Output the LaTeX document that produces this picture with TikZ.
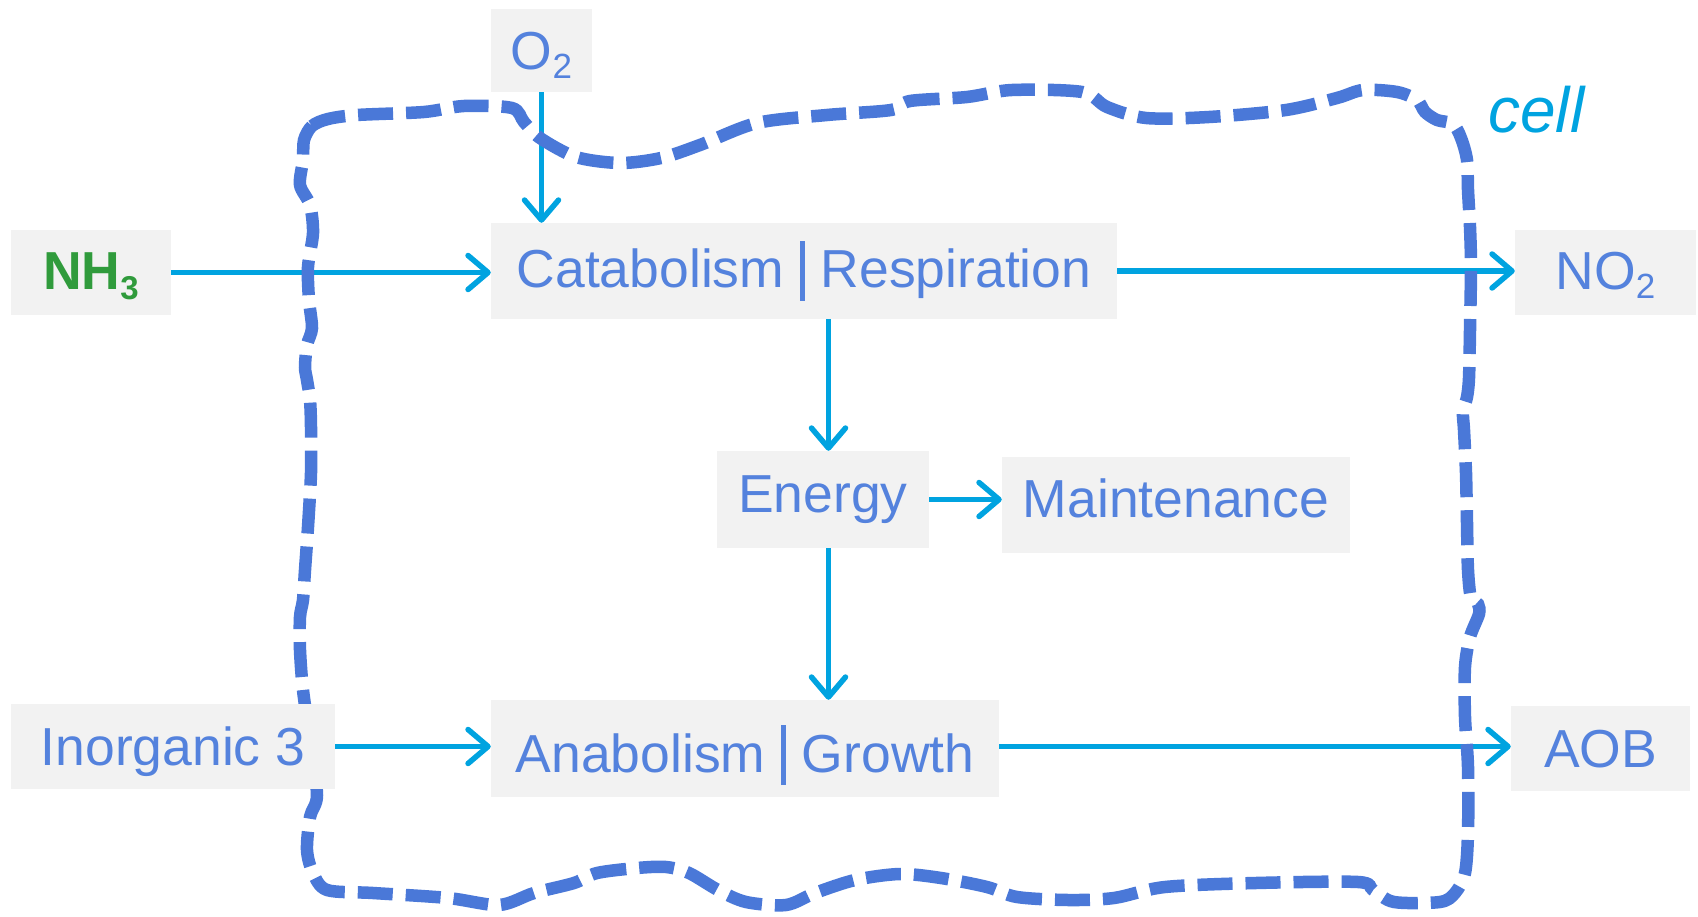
\documentclass[tikz,border=0pt]{standalone}
\usepackage{fontspec}
\setmainfont{Liberation Sans}
\usetikzlibrary{arrows.meta}
\definecolor{boxfill}{HTML}{F2F2F2}
\definecolor{labelblue}{RGB}{84,130,221}
\definecolor{flowcyan}{HTML}{00A3E0}
\definecolor{membrane}{RGB}{74,120,216}
\definecolor{ammonia}{RGB}{48,155,60}
\pgfdeclarelayer{under}
\pgfsetlayers{under,main}
% lowered subscript and the separator bar inside the process labels
\newcommand\lowsub[2]{\raisebox{-#1}{\fontsize{35pt}{35pt}\selectfont #2}}
\newcommand\sepbar{\hspace{16pt}\rule[-13pt]{4.5pt}{60pt}\hspace{16pt}}
\begin{document}
\begin{tikzpicture}[x=1pt,y=-1pt,
  box/.style={fill=boxfill, inner sep=0pt, text=labelblue,
    font=\fontsize{53.5pt}{60pt}\selectfont, text depth=0pt},
  flow/.style={draw=flowcyan, line width=5.5pt,
    -{Straight Barb[length=20pt,width=34pt,round]}},
  membranestyle/.style={draw=membrane, line width=12.5pt,
    dash pattern=on 35pt off 13pt}
]
\useasboundingbox (0,0) rectangle (1698,917);

% substances and processes
\node[box, minimum width=101pt, minimum height=83pt, text height=39pt] (o2) at (541.5,50.5) {O\lowsub{9pt}{2}};
\node[box, minimum width=160pt, minimum height=85pt, text height=35pt, text=ammonia] (nh3) at (91,272.5)
  {\bfseries NH\raisebox{-10pt}{\fontsize{33pt}{33pt}\selectfont 3}};
\node[box, minimum width=626pt, minimum height=96pt, text height=34pt] (cat) at (804,271) {Catabolism\sepbar Respiration};
\node[box, minimum width=181pt, minimum height=85pt, text height=35pt] (no2) at (1605.5,272.5) {NO\lowsub{9pt}{2}};
\node[box, minimum width=212pt, minimum height=97pt, text height=26pt] (energy) at (823,499.5) {Energy};
\node[box, minimum width=348pt, minimum height=96pt, text height=25pt] (maint) at (1176,505) {Maintenance};
\node[box, minimum width=324pt, minimum height=85pt, text height=37pt] (inorg) at (173,746.5) {Inorganic 3};
\node[box, minimum width=508pt, minimum height=97pt, text height=47pt] (anab) at (745,748.5) {Anabolism\sepbar Growth};
\node[box, minimum width=179pt, minimum height=85pt, text height=37pt] (aob) at (1600.5,748.5) {AOB};
\node[anchor=base west, inner sep=0pt, text=flowcyan, font=\fontsize{64pt}{70pt}\selectfont\itshape] (celllabel) at (1488,133) {cell};

\coordinate (vx) at (828.5,0);

\begin{pgfonlayer}{under}
  % flows
  \draw[flow] (o2.south) -- (o2.south |- cat.north);
  \draw[flow] (nh3.east) -- (nh3.east -| cat.west);
  \draw[flow] (cat.east) -- (cat.east -| no2.west);
  \draw[flow] (vx |- cat.south) -- (vx |- energy.north);
  \draw[flow] (energy.east) -- (energy.east -| maint.west);
  \draw[flow] (vx |- energy.south) -- (vx |- anab.north);
  \draw[flow] (inorg.east) -- (inorg.east -| anab.west);
  \draw[flow] (anab.east |- inorg.east) -- (aob.west |- inorg.east);
  % cell membrane
  \draw[membranestyle] plot[smooth cycle, tension=0.5] coordinates {
    (304,140) (312,126) (328,119) (357,115) (424,112) (464,106) (512,108) (524,122)
    (540,138) (576,157) (620,163) (661,158) (700,145) (757,123) (827,115) (891,110)
    (910,101) (967,97) (1012,90) (1082,92) (1107,107) (1146,118) (1209,117) (1286,110)
    (1337,98) (1363,90) (1397,92) (1417,100) (1425,112) (1437,120) (1453,124) (1461,138)
    (1467,160) (1468,190) (1470,227) (1471,267) (1470,330) (1469,378) (1467,397) (1463,412)
    (1464,430) (1466,473) (1467,523) (1468,570) (1471,598) (1478,604) (1479,614) (1470,637)
    (1465,667) (1465,717) (1468,767) (1468,833) (1465,873) (1455,893) (1440,902) (1394,902)
    (1373,890) (1358,882) (1256,883) (1165,887) (1114,898) (1068,900) (1017,897) (987,887)
    (941,878) (900,874) (855,880) (815,893) (786,905) (746,902) (718,890) (689,873)
    (666,867) (637,868) (597,873) (574,883) (534,893) (499,905) (448,898) (373,893)
    (327,890) (313,873) (307,850) (310,817) (317,795) (310,740) (303,690) (300,650)
    (300,617) (303,600) (305,570) (308,527) (311,473) (311,427) (310,400) (307,380)
    (305,367) (307,345) (312,328) (309,300) (308,267) (313,233) (310,205) (300,185)
    (303,160)};
\end{pgfonlayer}
\end{tikzpicture}
\end{document}
